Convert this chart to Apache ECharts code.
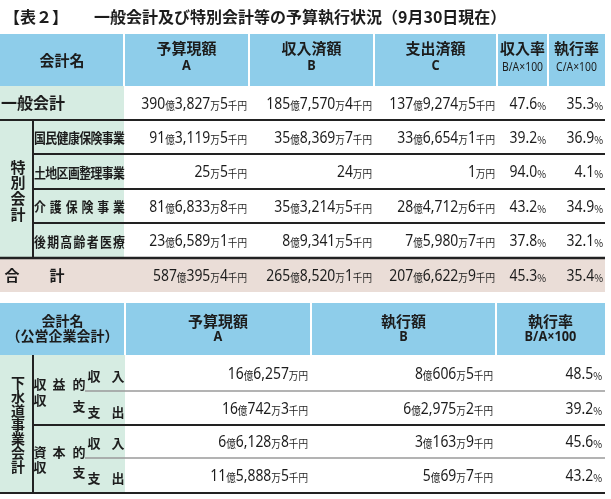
<!DOCTYPE html>
<html><head><meta charset="utf-8">
<script src="https://cdn.jsdelivr.net/npm/echarts@6/dist/echarts.min.js"></script>
<style>html,body{margin:0;padding:0;background:#fff}#c{width:611px;height:499px}</style>
</head><body><div id="c"></div>
<script>
// ---------- data ----------
const titleLabel = '【表２】';
const titleText = '一般会計及び特別会計等の予算執行状況（9月30日現在）';

const headers1 = [['会計名'], ['予算現額', 'A'], ['収入済額', 'B'], ['支出済額', 'C'], ['収入率', 'B/A×100'], ['執行率', 'C/A×100']];
const rowNames1 = ['一般会計', '国民健康保険事業', '土地区画整理事業', '介護保険事業', '後期高齢者医療', '合計'];
const groupLabel1 = '特別会計';
const budgetA = ['390億3,827万5千円', '91億3,119万5千円', '25万5千円', '81億6,833万8千円', '23億6,589万1千円', '587億395万4千円'];
const receiptB = ['185億7,570万4千円', '35億8,369万7千円', '24万円', '35億3,214万5千円', '8億9,341万5千円', '265億8,520万1千円'];
const expendC = ['137億9,274万5千円', '33億6,654万1千円', '1万円', '28億4,712万6千円', '7億5,980万7千円', '207億6,622万9千円'];
const rateBA = ['47.6%', '39.2%', '94.0%', '43.2%', '37.8%', '45.3%'];
const rateCA = ['35.3%', '36.9%', '4.1%', '34.9%', '32.1%', '35.4%'];

const headers2 = [['会計名', '（公営企業会計）'], ['予算現額', 'A'], ['執行額', 'B'], ['執行率', 'B/A×100']];
const groupLabel2 = '下水道事業会計';
const subGroups2 = [['収益的', '収支'], ['資本的', '収支']];
const rowNames2 = ['収入', '支出', '収入', '支出'];
const budget2 = ['16億6,257万円', '16億742万3千円', '6億6,128万8千円', '11億5,888万5千円'];
const exec2 = ['8億606万5千円', '6億2,975万2千円', '3億163万9千円', '5億69万7千円'];
const rate2 = ['48.5%', '39.2%', '45.6%', '43.2%'];

// ---------- style / layout ----------
const BLUE = '#8ecdea', GREEN = '#d6ece2', PINK = '#eaddd7', INK = '#1c1c1c', DARK = '#222', GRAY = '#9a9a9a';
const JP = '"Noto Sans CJK JP"', LAT = '"Noto Sans"';
const E1 = [0, 124, 249, 374, 497, 548, 605];
const H1 = [34, 86];
const R1 = [86, 120, 154, 189, 223, 258, 292];
const E2 = [0, 125, 311, 496, 605];
const H2 = [303, 355];
const R2 = [355, 391, 425, 458, 493];
const VX = 33;
const NUM_SX = 0.87;

const els = [];
function rect(x, y, w, h, fill) { els.push({ type: 'rect', silent: true, shape: { x, y, width: w, height: h }, style: { fill } }); }
function line(x1, y1, x2, y2, stroke, lw) { els.push({ type: 'line', silent: true, shape: { x1, y1, x2, y2 }, style: { stroke, lineWidth: lw } }); }
function txt(t, x, y, o) {
  o = o || {};
  els.push({
    type: 'text', silent: true, x, y, scaleX: o.sx || 1,
    style: {
      text: t, x: 0, y: 0, align: o.align || 'center', verticalAlign: 'middle',
      fontSize: o.size || 14, fontFamily: o.family || JP, fontWeight: o.weight || 'normal',
      fill: INK, rich: o.rich
    }
  });
}
const numRich = {
  n: { fontSize: 16, lineHeight: 16, fontFamily: LAT, fill: INK, verticalAlign: 'bottom' },
  u: { fontSize: 11, lineHeight: 11, fontFamily: JP, fill: INK, verticalAlign: 'bottom', padding: [0, 0, 1, 0] }
};
function richNum(s) {
  return s.match(/[0-9.,]+|[^0-9.,]+/g).map(t => (/[0-9]/.test(t) ? '{n|' + t + '}' : '{u|' + t + '}')).join('');
}
function num(s, right, cy) { txt(richNum(s), right, cy, { align: 'right', sx: NUM_SX, rich: numRich }); }
function spread(s, L, R, cy, size, weight, sx) {
  const ch = Array.from(s), n = ch.length;
  const w = size * (sx || 1);
  const step = (R - L - w) / (n - 1);
  ch.forEach((c, i) => txt(c, L + w / 2 + i * step, cy, { size, weight, sx }));
}
function vertical(s, cx, cTop, cBot, size) {
  const ch = Array.from(s), n = ch.length, step = (cBot - cTop) / (n - 1);
  ch.forEach((c, i) => txt(c, cx, cTop + i * step, { size, weight: 'bold' }));
}

// ---------- title ----------
txt(titleLabel, 4, 17, { align: 'left', size: 16, weight: 'bold' });
txt(titleText, 94, 17, { align: 'left', size: 16, weight: 'bold' });

// ---------- table 1 ----------
for (let i = 0; i < headers1.length; i++) {
  const x0 = i ? E1[i] + 1 : 0, x1 = i === headers1.length - 1 ? E1[i + 1] : E1[i + 1] - 1;
  rect(x0, H1[0], x1 - x0, H1[1] - H1[0], BLUE);
}
rect(0, R1[0], E1[1], R1[5] - R1[0], GREEN);
rect(0, R1[5], E1[6], R1[6] - R1[5], PINK);

line(0, R1[1], E1[6], R1[1], DARK, 2);
for (let r = 2; r <= 4; r++) line(VX, R1[r], E1[6], R1[r], DARK, 2);
line(0, R1[5], E1[6], R1[5], DARK, 2.5);
line(VX, R1[1], VX, R1[5], DARK, 2);

headers1.forEach((h, i) => {
  const cx = (E1[i] + E1[i + 1]) / 2;
  if (h.length === 1) txt(h[0], cx, 60, { size: 15, weight: 'bold' });
  else if (i < 4) { txt(h[0], cx, 48, { size: 15, weight: 'bold' }); txt(h[1], cx, 66, { size: 15, weight: 'bold', family: LAT, sx: 0.85 }); }
  else { txt(h[0], cx, 48, { size: 15, weight: 'bold' }); txt(h[1], cx, 67, { size: 13, family: LAT, sx: 0.8 }); }
});

const cols1 = [budgetA, receiptB, expendC, rateBA, rateCA];
rowNames1.forEach((name, r) => {
  const cy = (R1[r] + R1[r + 1]) / 2;
  if (r === 0) txt(name, 1, cy, { align: 'left', size: 16, weight: 'bold' });
  else if (r === rowNames1.length - 1) { const c = Array.from(name); txt(c[0], 12, cy, { size: 15, weight: 'bold' }); txt(c[1], 57, cy, { size: 15, weight: 'bold' }); }
  else spread(name, 34, 125, cy + 1, 13.5, 'bold', 0.88);
  cols1.forEach((col, k) => num(col[r], E1[k + 2] - 2, cy + 1));
});
vertical(groupLabel1, 18, 167, 214, 15);

// ---------- table 2 ----------
for (let i = 0; i < headers2.length; i++) {
  const x0 = i ? E2[i] + 1 : 0, x1 = i === headers2.length - 1 ? E2[i + 1] : E2[i + 1] - 1;
  rect(x0, H2[0], x1 - x0, H2[1] - H2[0], BLUE);
}
rect(0, R2[0], E2[1], R2[4] - R2[0], GREEN);
line(85, R2[1], E2[4], R2[1], GRAY, 1.5);
line(VX, R2[2], E2[4], R2[2], DARK, 2);
line(85, R2[3], E2[4], R2[3], GRAY, 1.5);
line(0, R2[4], E2[4], R2[4], DARK, 2);
line(VX, R2[0], VX, R2[4], DARK, 2);

headers2.forEach((h, i) => {
  const cx = (E2[i] + E2[i + 1]) / 2;
  if (i === 0) { txt(h[0], cx, 321, { size: 14, weight: 'bold' }); txt(h[1], cx, 336, { size: 14, weight: 'bold' }); }
  else { txt(h[0], cx, 321, { size: 15, weight: 'bold' }); txt(h[1], cx, 337, { size: 15, weight: 'bold', family: LAT, sx: 0.85 }); }
});

vertical(groupLabel2, 18, 383, 467, 14);
const subY = [[384, 400, 406], [452, 467, 472]];
subGroups2.forEach((g, k) => {
  const a = Array.from(g[0]), c = Array.from(g[1]);
  const [y1, y2a, y2b] = subY[k];
  txt(a[0], 40, y1, { size: 13, weight: 'bold' }); txt(a[1], 59, y1, { size: 13, weight: 'bold' }); txt(a[2], 79, y1, { size: 13, weight: 'bold' });
  txt(c[0], 40, y2a, { size: 13, weight: 'bold' }); txt(c[1], 79, y2b, { size: 13, weight: 'bold' });
});
const rowY2 = [376, 412, 443, 478];
const cols2 = [budget2, exec2, rate2];
rowNames2.forEach((name, r) => {
  const cy = (R2[r] + R2[r + 1]) / 2;
  const c = Array.from(name);
  txt(c[0], 94, rowY2[r], { size: 13, weight: 'bold' }); txt(c[1], 118, rowY2[r], { size: 13, weight: 'bold' });
  cols2.forEach((col, k) => num(col[r], E2[k + 2] - 3, cy + 1));
});

const chart = echarts.init(document.getElementById('c'), null, { renderer: 'canvas' });
chart.setOption({ backgroundColor: '#fff', animation: false, graphic: { elements: els } });
</script></body></html>
